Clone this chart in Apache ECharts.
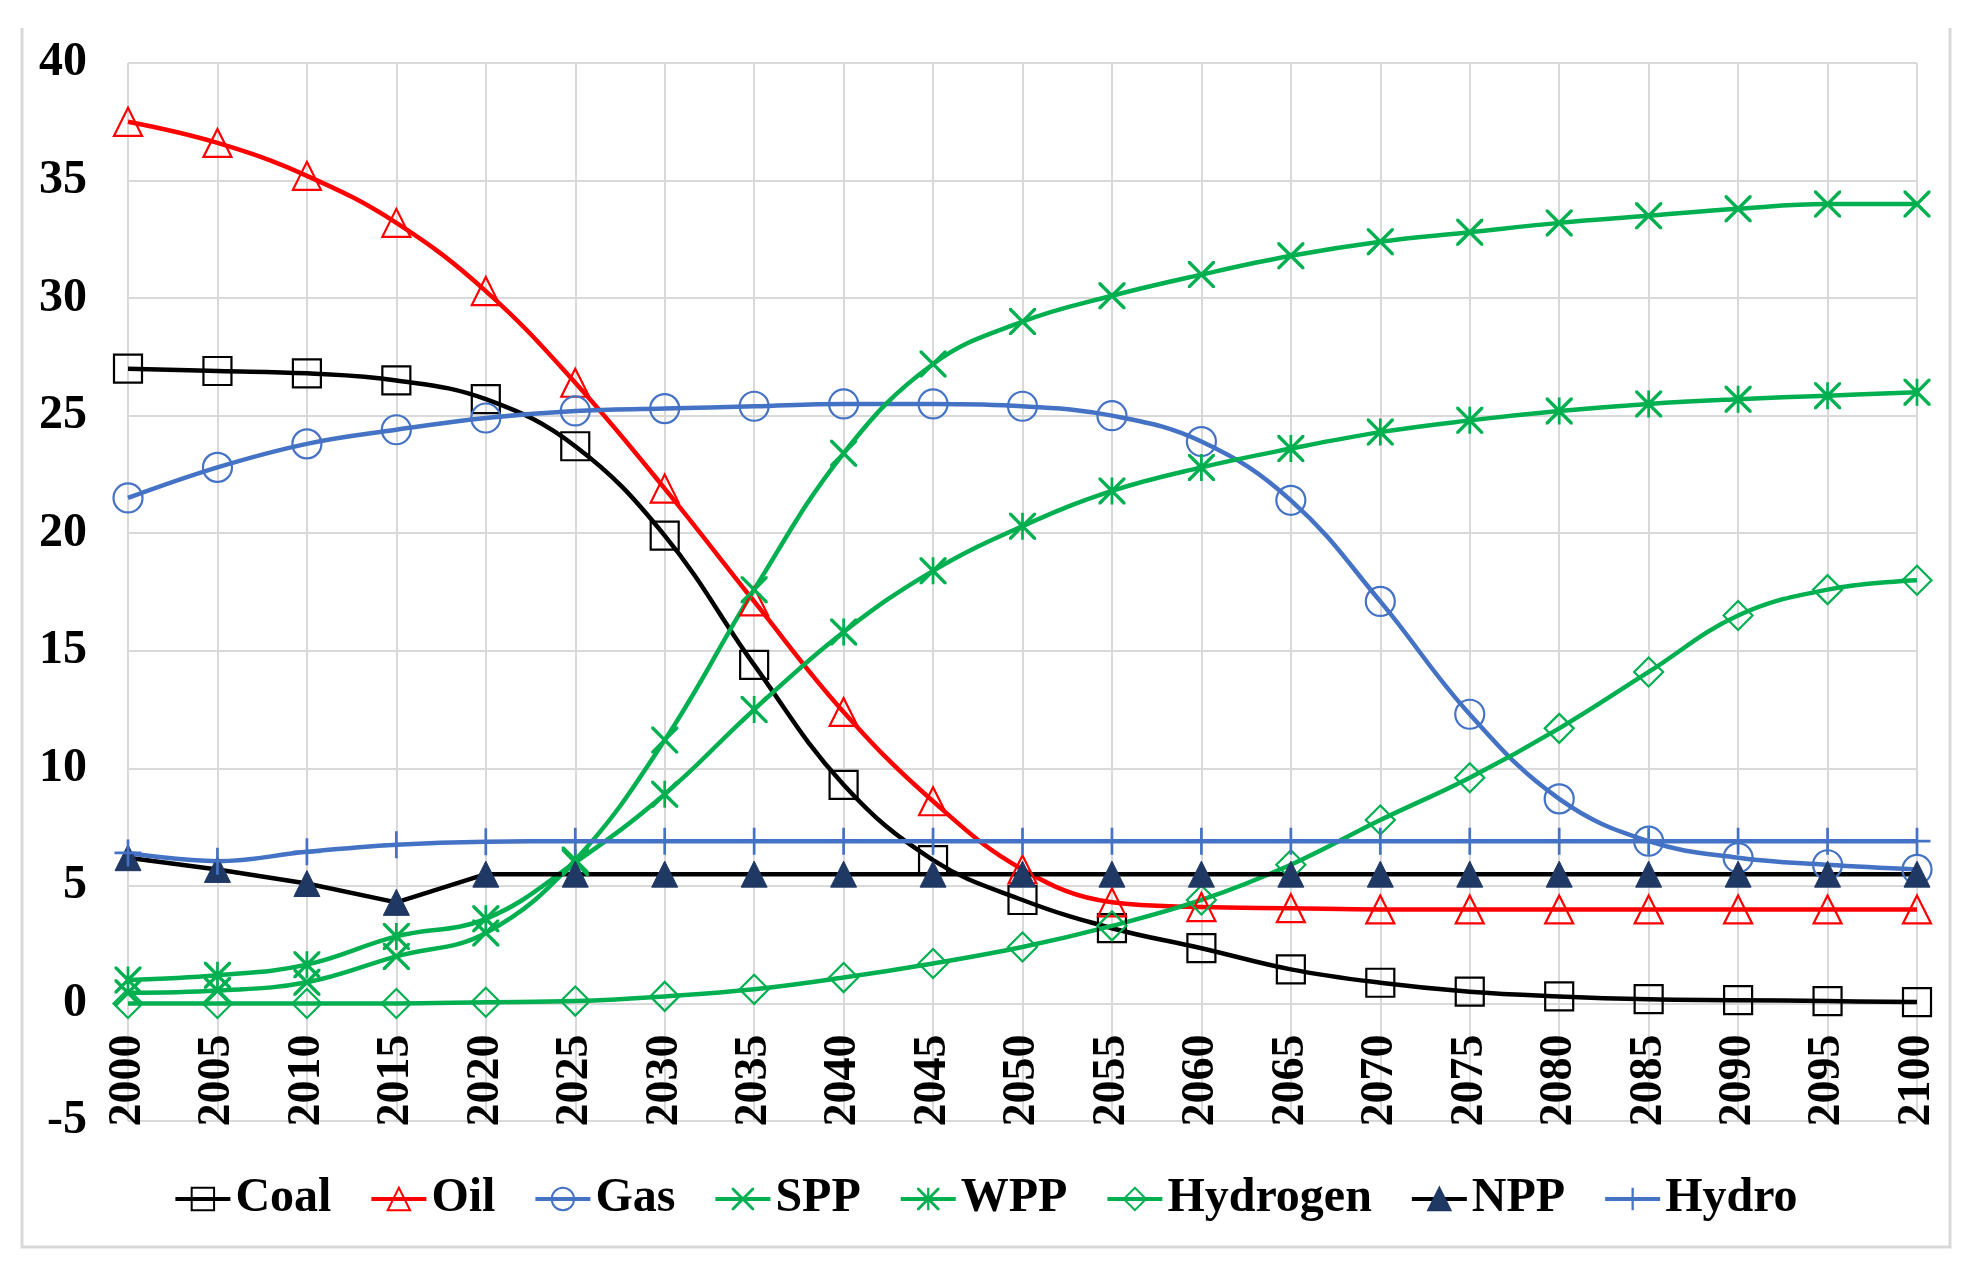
<!DOCTYPE html>
<html>
<head>
<meta charset="utf-8">
<script src="https://cdn.jsdelivr.net/npm/echarts@6/dist/echarts.min.js"></script>
<style>
html,body{margin:0;padding:0;background:#fff;}
#chart{width:1971px;height:1277px;}
</style>
</head>
<body>
<div id="chart"></div>
<script>
var years = ['2000','2005','2010','2015','2020','2025','2030','2035','2040','2045','2050','2055','2060','2065','2070','2075','2080','2085','2090','2095','2100'];
var yTicks = {min: -5, max: 40, interval: 5};

var coal = [27.0, 26.9, 26.8, 26.5, 25.7, 23.7, 19.9, 14.4, 9.3, 6.1, 4.4, 3.2, 2.35, 1.45, 0.88, 0.5, 0.3, 0.18, 0.14, 0.1, 0.06];
var oil = [37.5, 36.6, 35.2, 33.2, 30.3, 26.4, 21.9, 17.1, 12.4, 8.6, 5.7, 4.3, 4.1, 4.05, 4.0, 4.0, 4.0, 4.0, 4.0, 4.0, 4.0];
var gas = [21.5, 22.8, 23.8, 24.4, 24.9, 25.2, 25.3, 25.4, 25.5, 25.5, 25.4, 25.0, 23.9, 21.4, 17.1, 12.3, 8.7, 6.9, 6.2, 5.9, 5.7];
var spp = [0.45, 0.55, 0.9, 2.0, 3.0, 6.1, 11.2, 17.6, 23.4, 27.2, 29.0, 30.1, 31.0, 31.8, 32.4, 32.8, 33.2, 33.5, 33.8, 34.0, 34.0];
var wpp = [1.0, 1.2, 1.65, 2.85, 3.6, 6.0, 8.9, 12.5, 15.8, 18.4, 20.3, 21.8, 22.8, 23.6, 24.3, 24.8, 25.2, 25.5, 25.7, 25.85, 26.0];
var hydrogen = [0.0, 0.0, 0.0, 0.0, 0.05, 0.1, 0.3, 0.6, 1.1, 1.7, 2.4, 3.3, 4.4, 5.9, 7.8, 9.6, 11.7, 14.1, 16.5, 17.6, 18.0];
var npp = [6.2, 5.7, 5.1, 4.3, 5.5, 5.5, 5.5, 5.5, 5.5, 5.5, 5.5, 5.5, 5.5, 5.5, 5.5, 5.5, 5.5, 5.5, 5.5, 5.5, 5.5];
var hydro = [6.4, 6.05, 6.45, 6.75, 6.88, 6.9, 6.9, 6.9, 6.9, 6.9, 6.9, 6.9, 6.9, 6.9, 6.9, 6.9, 6.9, 6.9, 6.9, 6.9, 6.9];

var seriesNames = ['Coal','Oil','Gas','SPP','WPP','Hydrogen','NPP','Hydro'];

var X_PATH = 'path://M0,0 L9,0 L50,41 L91,0 L100,0 L100,9 L59,50 L100,91 L100,100 L91,100 L50,59 L9,100 L0,100 L0,91 L41,50 L0,9 Z';
var AST_PATH = 'path://M0,0 L9,0 L50,41 L91,0 L100,0 L100,9 L59,50 L100,91 L100,100 L91,100 L50,59 L9,100 L0,100 L0,91 L41,50 L0,9 Z M45,0 L55,0 L55,100 L45,100 Z';
var PLUS_PATH = 'path://M45,0 L55,0 L55,45 L100,45 L100,55 L55,55 L55,100 L45,100 L45,55 L0,55 L0,45 L45,45 Z';

var GREEN = '#00B050', BLUE = '#4472C4', RED = '#FF0000', BLACK = '#000000', NAVY = '#1F3864';

function mk(name, data, color, symbol, opts) {
  opts = opts || {};
  return {
    name: name,
    type: 'line',
    data: data,
    smooth: opts.smooth === undefined ? 0.4 : opts.smooth,
    symbol: symbol,
    symbolSize: opts.size || 28,
    showAllSymbol: true,
    lineStyle: {color: color, width: 4.5},
    itemStyle: {
      color: opts.fill || 'rgba(255,255,255,0)',
      borderColor: opts.border || color,
      borderWidth: opts.bw === undefined ? 2.2 : opts.bw
    },
    emphasis: {disabled: true}
  };
}

var series = [
  mk(seriesNames[0], coal, BLACK, 'rect'),
  mk(seriesNames[1], oil, RED, 'triangle'),
  mk(seriesNames[2], gas, BLUE, 'circle', {size: 29}),
  mk(seriesNames[3], spp, GREEN, X_PATH, {fill: GREEN, bw: 0, size: 27}),
  mk(seriesNames[4], wpp, GREEN, AST_PATH, {fill: GREEN, bw: 0, size: 27}),
  mk(seriesNames[5], hydrogen, GREEN, 'diamond', {size: 29}),
  mk(seriesNames[6], npp, BLACK, 'triangle', {fill: NAVY, border: NAVY, bw: 1, smooth: false, size: 26}),
  mk(seriesNames[7], hydro, BLUE, PLUS_PATH, {fill: BLUE, bw: 0, size: 27})
];

var GRID_TOP = 63, GRID_BOTTOM = 156, H = 1277;
var plotH = H - GRID_TOP - GRID_BOTTOM;
// shift the category axis so it sits on the zero line
var zeroOffset = -plotH * (0 - yTicks.min) / (yTicks.max - yTicks.min);

var FONT = 'Liberation Serif';
var chart = echarts.init(document.getElementById('chart'), null, {renderer: 'canvas'});
chart.setOption({
  backgroundColor: '#ffffff',
  animation: false,
  grid: {left: 128, right: 54, top: GRID_TOP, bottom: GRID_BOTTOM, containLabel: false},
  xAxis: {
    type: 'category',
    data: years,
    boundaryGap: false,
    offset: zeroOffset,
    axisLine: {show: false, onZero: false},
    axisTick: {show: false},
    axisLabel: {
      rotate: 90, margin: 31, interval: 0,
      fontFamily: FONT, fontWeight: 'bold', fontSize: 46, color: '#000'
    },
    splitLine: {show: true, lineStyle: {color: '#d9d9d9', width: 2}}
  },
  yAxis: {
    type: 'value',
    min: yTicks.min, max: yTicks.max, interval: yTicks.interval,
    axisLine: {show: false},
    axisTick: {show: false},
    axisLabel: {
      margin: 41,
      fontFamily: FONT, fontWeight: 'bold', fontSize: 48, color: '#000'
    },
    splitLine: {show: true, lineStyle: {color: '#d9d9d9', width: 2}}
  },
  legend: {
    data: seriesNames,
    left: 'center',
    top: 1170,
    itemWidth: 55,
    itemHeight: 28,
    itemGap: 38,
    lineStyle: {width: 4},
    textStyle: {fontFamily: FONT, fontWeight: 'bold', fontSize: 48, color: '#000', lineHeight: 48}
  },
  graphic: [{
    type: 'polyline',
    silent: true,
    shape: {points: [[22, 28], [22, 1247], [1950, 1247], [1950, 28]]},
    style: {stroke: '#d9d9d9', lineWidth: 3, fill: null}
  }],
  series: series
});
</script>
</body>
</html>
